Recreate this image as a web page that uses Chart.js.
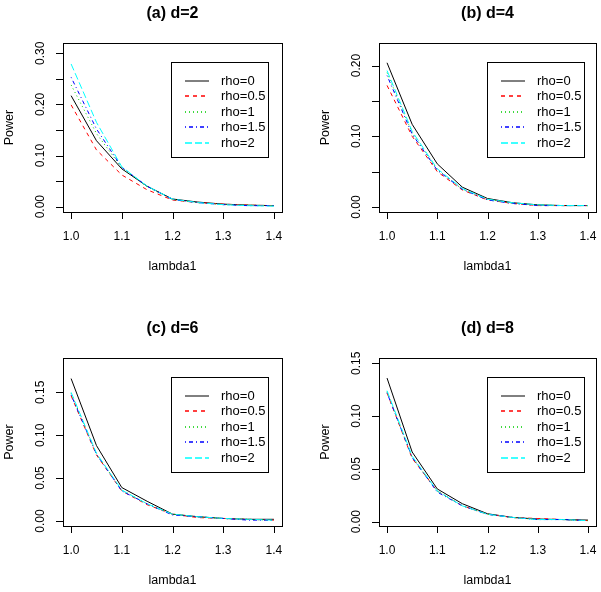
<!DOCTYPE html>
<html>
<head>
<meta charset="utf-8">
<script src="https://cdn.jsdelivr.net/npm/chart.js@4"></script>
<style>
body{margin:0;background:#fff;width:601px;height:592px;position:relative;overflow:hidden}
canvas{position:absolute}
</style>
</head>
<body>
<canvas id="ca" width="300" height="296" style="left:0;top:0"></canvas>
<canvas id="cb" width="301" height="296" style="left:300px;top:0"></canvas>
<canvas id="cc" width="300" height="296" style="left:0;top:296px"></canvas>
<canvas id="cd" width="301" height="296" style="left:300px;top:296px"></canvas>
<script>
// lambda1 values
const lambda1 = [1.0, 1.05, 1.1, 1.15, 1.2, 1.25, 1.3, 1.35, 1.4];
const xTicks = [1.0, 1.1, 1.2, 1.3, 1.4];
const rhoNames = ["rho=0", "rho=0.5", "rho=1", "rho=1.5", "rho=2"];

// power, one row per rho, for each d
const powerD2 = [
  [0.217, 0.129, 0.074, 0.040, 0.015, 0.009, 0.005, 0.003, 0.002],
  [0.199, 0.111, 0.062, 0.033, 0.013, 0.008, 0.005, 0.003, 0.002],
  [0.238, 0.143, 0.076, 0.039, 0.014, 0.008, 0.004, 0.003, 0.002],
  [0.253, 0.152, 0.077, 0.040, 0.014, 0.008, 0.004, 0.002, 0.002],
  [0.279, 0.165, 0.078, 0.040, 0.015, 0.008, 0.004, 0.002, 0.001]
];
const powerD4 = [
  [0.204, 0.117, 0.061, 0.028, 0.012, 0.006, 0.003, 0.002, 0.002],
  [0.172, 0.100, 0.050, 0.024, 0.010, 0.005, 0.002, 0.002, 0.002],
  [0.190, 0.105, 0.053, 0.025, 0.011, 0.005, 0.003, 0.002, 0.002],
  [0.186, 0.103, 0.052, 0.025, 0.010, 0.005, 0.002, 0.002, 0.002],
  [0.193, 0.107, 0.054, 0.026, 0.011, 0.006, 0.003, 0.002, 0.002]
];
const powerD6 = [
  [0.166, 0.088, 0.039, 0.023, 0.008, 0.005, 0.003, 0.002, 0.002],
  [0.146, 0.077, 0.035, 0.019, 0.008, 0.004, 0.003, 0.002, 0.001],
  [0.149, 0.078, 0.036, 0.020, 0.008, 0.005, 0.003, 0.002, 0.001],
  [0.147, 0.078, 0.035, 0.020, 0.007, 0.005, 0.003, 0.001, 0.001],
  [0.150, 0.079, 0.036, 0.020, 0.008, 0.005, 0.003, 0.002, 0.001]
];
const powerD8 = [
  [0.136, 0.066, 0.031, 0.017, 0.0075, 0.004, 0.0025, 0.002, 0.0015],
  [0.122, 0.060, 0.029, 0.015, 0.007, 0.004, 0.003, 0.002, 0.001],
  [0.123, 0.061, 0.029, 0.015, 0.007, 0.004, 0.002, 0.002, 0.001],
  [0.122, 0.061, 0.028, 0.015, 0.007, 0.004, 0.002, 0.002, 0.001],
  [0.124, 0.062, 0.029, 0.015, 0.007, 0.004, 0.002, 0.002, 0.001]
];

// y ticks and which ones get a label
const yTicksD2 = [0, 0.05, 0.10, 0.15, 0.20, 0.25, 0.30];
const yLabelsD2 = ["0.00", "", "0.10", "", "0.20", "", "0.30"];
const yTicksD4 = [0, 0.05, 0.10, 0.15, 0.20];
const yLabelsD4 = ["0.00", "", "0.10", "", "0.20"];
const yTicksD6 = [0, 0.05, 0.10, 0.15];
const yLabelsD6 = ["0.00", "0.05", "0.10", "0.15"];
const yTicksD8 = [0, 0.05, 0.10, 0.15];
const yLabelsD8 = ["0.00", "0.05", "0.10", "0.15"];

const colors = ["#000000", "#ff0000", "#00cd00", "#0000ff", "#00ffff"];
const dashes = [[], [4, 4], [1, 3], [1, 3, 4, 3], [7, 3]];
const FONT = "'Liberation Sans', Arial, sans-serif";

// R style box, axes, titles and legend
const rPlot = {
  id: "rPlot",
  afterDraw(chart, args, o) {
    const ctx = chart.ctx, a = chart.chartArea;
    const x = chart.scales.x, y = chart.scales.y;
    ctx.save();
    ctx.strokeStyle = "#000";
    ctx.fillStyle = "#000";
    ctx.lineWidth = 1;
    ctx.setLineDash([]);
    ctx.strokeRect(a.left + 0.5, a.top + 0.5, a.right - a.left, a.bottom - a.top);

    // x axis
    ctx.beginPath();
    let x0 = Math.round(x.getPixelForValue(xTicks[0])) + 0.5;
    let x1 = Math.round(x.getPixelForValue(xTicks[xTicks.length - 1])) + 0.5;
    ctx.moveTo(x0, a.bottom + 0.5); ctx.lineTo(x1, a.bottom + 0.5);
    xTicks.forEach(v => {
      const px = Math.round(x.getPixelForValue(v)) + 0.5;
      ctx.moveTo(px, a.bottom); ctx.lineTo(px, a.bottom + 7);
    });
    ctx.stroke();
    ctx.font = "12px " + FONT;
    ctx.textAlign = "center"; ctx.textBaseline = "middle";
    xTicks.forEach(v => ctx.fillText(v.toFixed(1), x.getPixelForValue(v), a.bottom + 25));

    // y axis
    ctx.beginPath();
    let y0 = Math.round(y.getPixelForValue(o.yTicks[0])) + 0.5;
    let y1 = Math.round(y.getPixelForValue(o.yTicks[o.yTicks.length - 1])) + 0.5;
    ctx.moveTo(a.left + 0.5, y0); ctx.lineTo(a.left + 0.5, y1);
    o.yTicks.forEach(v => {
      const py = Math.round(y.getPixelForValue(v)) + 0.5;
      ctx.moveTo(a.left + 1, py); ctx.lineTo(a.left - 7, py);
    });
    ctx.stroke();
    o.yTicks.forEach((v, i) => {
      if (!o.yLabels[i]) return;
      ctx.save();
      ctx.translate(a.left - 22, y.getPixelForValue(v));
      ctx.rotate(-Math.PI / 2);
      ctx.fillText(o.yLabels[i], 0, 0);
      ctx.restore();
    });

    // axis titles and main title
    const cx = (a.left + a.right) / 2, cy = (a.top + a.bottom) / 2;
    ctx.font = "12.5px " + FONT;
    ctx.fillText("lambda1", cx, a.bottom + 55);
    ctx.save();
    ctx.translate(a.left - 53, cy);
    ctx.rotate(-Math.PI / 2);
    ctx.fillText("Power", 0, 0);
    ctx.restore();
    ctx.font = "bold 16px " + FONT;
    ctx.fillText(o.title, cx, a.top - 29);

    // legend
    const lx = a.left + 108, ly = a.top + 19, lw = 97, lh = 95;
    ctx.strokeRect(Math.round(lx) + 0.5, Math.round(ly) + 0.5, lw, lh);
    ctx.font = "13px " + FONT;
    ctx.textAlign = "left";
    rhoNames.forEach((name, i) => {
      const ry = Math.round(ly + 18.7 + i * 15.5);
      ctx.strokeStyle = colors[i];
      ctx.lineWidth = i === 0 ? 1 : 1.3;
      ctx.setLineDash(dashes[i]);
      ctx.beginPath();
      ctx.moveTo(lx + 14, ry); ctx.lineTo(lx + 38, ry);
      ctx.stroke();
      ctx.fillText(name, lx + 50, ry);
    });
    ctx.restore();
  }
};

function makePanel(id, title, power, yTicks, yLabels, yMin, yMax, pad) {
  new Chart(document.getElementById(id), {
    type: "line",
    data: {
      datasets: power.map((vals, i) => ({
        label: rhoNames[i],
        data: lambda1.map((l, j) => ({x: l, y: vals[j]})),
        borderColor: colors[i],
        borderWidth: 1,
        borderDash: dashes[i],
        pointRadius: 0,
        tension: 0,
        fill: false,
        order: power.length - i
      }))
    },
    options: {
      responsive: false,
      animation: false,
      events: [],
      layout: {padding: pad},
      scales: {
        x: {type: "linear", min: 0.984, max: 1.416, display: false},
        y: {type: "linear", min: yMin, max: yMax, display: false}
      },
      plugins: {
        legend: {display: false},
        title: {display: false},
        tooltip: {enabled: false},
        rPlot: {title: title, yTicks: yTicks, yLabels: yLabels}
      }
    },
    plugins: [rPlot]
  });
}

makePanel("ca", "(a) d=2", powerD2, yTicksD2, yLabelsD2, -0.0104, 0.320, {left: 63, top: 43, right: 18, bottom: 84});
makePanel("cb", "(b) d=4", powerD4, yTicksD4, yLabelsD4, -0.0071, 0.232, {left: 79, top: 43, right: 5, bottom: 84});
makePanel("cc", "(c) d=6", powerD6, yTicksD6, yLabelsD6, -0.0058, 0.190, {left: 63, top: 62, right: 18, bottom: 66});
makePanel("cd", "(d) d=8", powerD8, yTicksD8, yLabelsD8, -0.0041, 0.155, {left: 79, top: 62, right: 5, bottom: 66});
</script>
</body>
</html>
